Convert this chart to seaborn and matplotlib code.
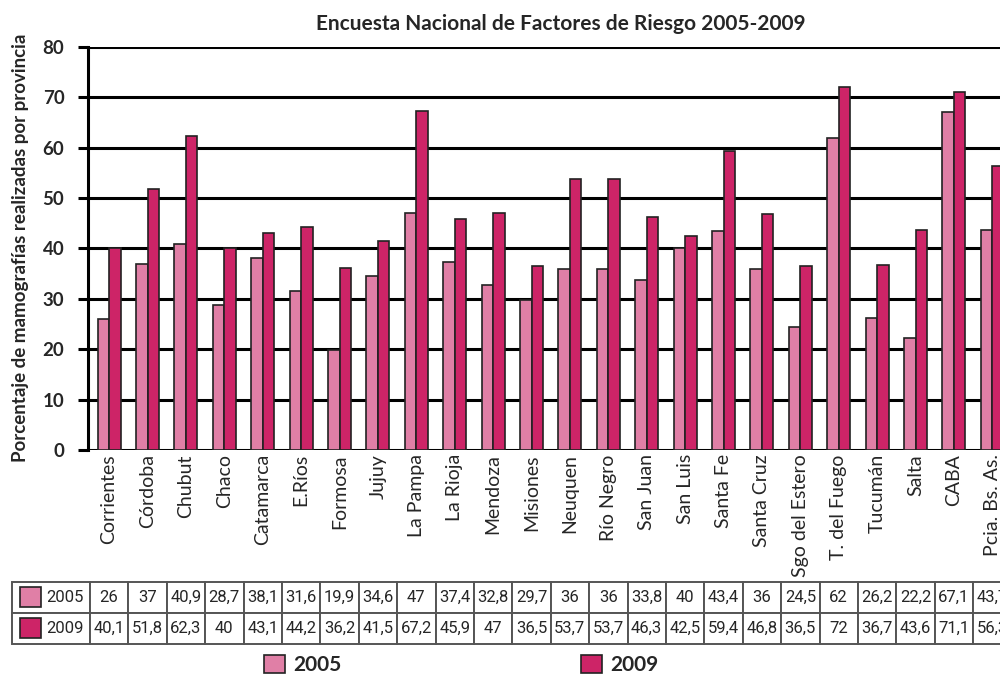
import matplotlib
matplotlib.use("Agg")
import numpy as np
import pandas as pd
import matplotlib.pyplot as plt
import seaborn as sns
from matplotlib.patches import Rectangle

# %%
# data read off the chart / table
provincias = [
    "Corrientes", "Córdoba", "Chubut", "Chaco", "Catamarca", "E.Ríos",
    "Formosa", "Jujuy", "La Pampa", "La Rioja", "Mendoza", "Misiones",
    "Neuquen", "Río Negro", "San Juan", "San Luis", "Santa Fe", "Santa Cruz",
    "Sgo del Estero", "T. del Fuego", "Tucumán", "Salta", "CABA", "Pcia. Bs. As.",
]
val_2005 = [26, 37, 40.9, 28.7, 38.1, 31.6, 19.9, 34.6, 47, 37.4, 32.8, 29.7,
            36, 36, 33.8, 40, 43.4, 36, 24.5, 62, 26.2, 22.2, 67.1, 43.7]
val_2009 = [40.1, 51.8, 62.3, 40, 43.1, 44.2, 36.2, 41.5, 67.2, 45.9, 47, 36.5,
            53.7, 53.7, 46.3, 42.5, 59.4, 46.8, 36.5, 72, 36.7, 43.6, 71.1, 56.3]
anios = ["2005", "2009"]
y_ticks = [0, 10, 20, 30, 40, 50, 60, 70, 80]

col_2005 = "#E07FA6"
col_2009 = "#CD2467"

df = pd.DataFrame({
    "provincia": provincias * 2,
    "valor": val_2005 + val_2009,
    "anio": [anios[0]] * len(provincias) + [anios[1]] * len(provincias),
})

# %%
sns.set_style("white")
plt.rcParams["font.family"] = ["Lato", "DejaVu Sans"]

fig = plt.figure(figsize=(10, 6.77), dpi=100)
ax = fig.add_axes([0.088, 1 - 450 / 677, 1 - 0.088, 403 / 677])

sns.barplot(
    data=df, x="provincia", y="valor", hue="anio",
    palette=[col_2005, col_2009], width=0.6, saturation=1,
    edgecolor="#222222", linewidth=1.2, ax=ax,
)
handles, labels = ax.get_legend_handles_labels()
ax.get_legend().remove()

ax.set_xlim(-0.55, 23.2)
ax.set_ylim(0, 80)
ax.set_yticks(y_ticks)
ax.set_yticklabels([str(t) for t in y_ticks], fontsize=13.5, fontweight="bold")
ax.yaxis.grid(True, color="black", linewidth=2.2)
ax.set_axisbelow(True)
ax.tick_params(axis="y", direction="out", length=7, width=2.2, color="black",
               left=True, pad=10)
ax.tick_params(axis="x", length=0, pad=3)
plt.setp(ax.get_xticklabels(), rotation=90, fontsize=14, va="top", ha="center")
for s in ["top", "right", "bottom"]:
    ax.spines[s].set_visible(False)
ax.spines["left"].set_linewidth(2.2)
ax.spines["left"].set_color("black")
ax.set_xlabel("")
ax.set_ylabel("")

fig.text(0.561, 1 - 24 / 677, "Encuesta Nacional de Factores de Riesgo 2005-2009",
         ha="center", va="center", fontsize=15, fontweight="bold")
fig.text(0.021, 1 - 248 / 677, "Porcentaje de mamografías realizadas por provincia",
         ha="center", va="center", rotation=90, fontsize=13.5, fontweight="bold")

# %%
# data table under the chart, columns lined up with the categories
def fmt(v):
    return f"{v:g}".replace(".", ",")

cell_text = [[anios[0]] + [fmt(v) for v in val_2005],
             [anios[1]] + [fmt(v) for v in val_2009]]

x0, x1 = ax.get_xlim()
left_data = -2.53
n = len(provincias)
to_ax = lambda xd: (xd - x0) / (x1 - x0)
bx0 = to_ax(left_data)
bx1 = to_ax(n - 0.5)
by0 = (450 - 644) / 403
by1 = (450 - 582) / 403

label_w = (-0.5 - left_data)
col_widths = [label_w] + [1.0] * n

tbl = ax.table(cellText=cell_text, colWidths=col_widths, cellLoc="center",
               bbox=[bx0, by0, bx1 - bx0, by1 - by0])
tbl.auto_set_font_size(False)
tbl.set_fontsize(12)
for (r, c), cell in tbl.get_celld().items():
    cell.set_edgecolor("#555555")
    cell.set_linewidth(1.4)
    cell.get_text().set_fontfamily(["Liberation Sans Narrow", "Roboto", "DejaVu Sans"])
    if c == 0:
        cell.get_text().set_ha("right")
        cell.PAD = 0.08
tbl.set_clip_on(False)

# little colour swatches in the table's label column
for i, col in enumerate([col_2005, col_2009]):
    ytop = 587 + i * 31
    fig.patches.append(Rectangle((20 / 1000, 1 - (ytop + 20) / 677), 21 / 1000, 20 / 677,
                                 transform=fig.transFigure, facecolor=col,
                                 edgecolor="#222222", linewidth=1.2))

# %%
fig.legend(handles, labels, ncol=2, loc="center",
           bbox_to_anchor=(0.461, 1 - 665 / 677), frameon=False,
           prop={"weight": "bold", "size": 15},
           handlelength=1.0, handleheight=1.0, handletextpad=0.4,
           columnspacing=11.5)

fig.savefig("out.png", dpi=100)
